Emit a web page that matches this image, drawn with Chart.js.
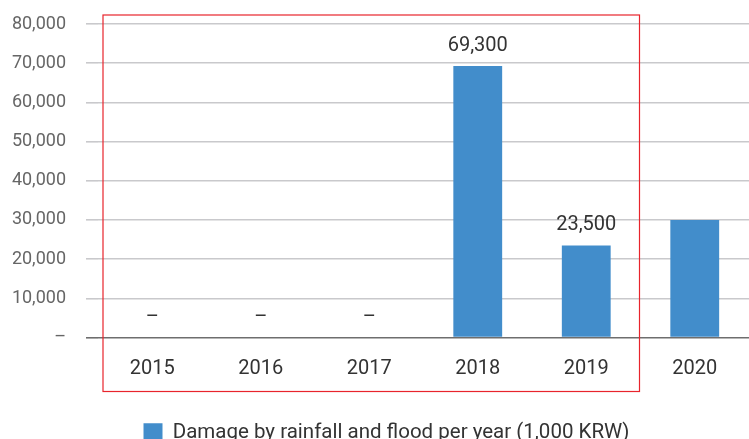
<!DOCTYPE html>
<html>
<head>
<meta charset="utf-8">
<script src="https://cdn.jsdelivr.net/npm/chart.js@4"></script>
<style>
  html, body { margin: 0; padding: 0; background: #fff; }
  #wrap { width: 749px; height: 439px; }
</style>
</head>
<body>
<div id="wrap"><canvas id="damageChart" width="749" height="439"></canvas></div>
<script>
// Damage by rainfall and flood per year

const years = ['2015', '2016', '2017', '2018', '2019', '2020'];
const damage = [0, 0, 0, 69300, 23500, 30000];
const valueLabels = ['–', '–', '–', '69,300', '23,500', ''];
const yTicks = [0, 10000, 20000, 30000, 40000, 50000, 60000, 70000, 80000];
const seriesName = 'Damage by rainfall and flood per year (1,000 KRW)';

const FONT = 'Roboto, "Noto Sans", sans-serif';

// --- value labels above bars ---
const barLabels = {
    id: 'barLabels',
    afterDatasetsDraw(chart) {
        const ctx = chart.ctx;
        const meta = chart.getDatasetMeta(0);
        ctx.save();
        ctx.font = '20px ' + FONT;
        ctx.fillStyle = '#333333';
        ctx.textAlign = 'center';
        ctx.textBaseline = 'middle';
        meta.data.forEach((bar, i) => {
            if (!valueLabels[i]) return;
            ctx.fillText(valueLabels[i], bar.x, bar.y - 20);
        });
        ctx.restore();
    }
};

// --- red highlight box round 2015..2019 ---
const highlightBox = {
    id: 'highlightBox',
    afterLayout(chart) {
        // legend in the original sits a little right of centre
        if (chart.legend) {
            chart.legend.left += 12;
            chart.legend.right += 12;
        }
    },
    afterDraw(chart) {
        const x = chart.scales.x;
        const area = chart.chartArea;
        const half = (x.getPixelForValue(1) - x.getPixelForValue(0)) / 2;
        const left = x.getPixelForValue(0) - half + 5;
        const right = x.getPixelForValue(4) + half - 1;
        const ctx = chart.ctx;
        ctx.save();
        ctx.strokeStyle = '#e8242c';
        ctx.lineWidth = 1.2;
        ctx.strokeRect(left, area.top - 9, right - left, area.bottom - area.top + 63);
        ctx.restore();
    }
};

const ctx = document.getElementById('damageChart').getContext('2d');

new Chart(ctx, {
    type: 'bar',
    data: {
        labels: years,
        datasets: [{
            label: seriesName,
            data: damage,
            backgroundColor: '#428dcb',
            borderWidth: 0,
            barPercentage: 0.9,
            categoryPercentage: 0.5
        }]
    },
    options: {
        responsive: false,
        animation: false,
        layout: { padding: { top: 24, right: 0, left: 0, bottom: -14 } },
        scales: {
            x: {
                grid: { display: false },
                border: { display: false },
                ticks: { color: '#333333', font: { size: 20, family: FONT }, padding: 11 },
                afterFit: (scale) => { scale.height = 77; }
            },
            y: {
                min: 0,
                max: 80000,
                afterBuildTicks: (scale) => { scale.ticks = yTicks.map(v => ({ value: v })); },
                border: { display: false },
                grid: {
                    color: (c) => (c.tick && c.tick.value === 0) ? '#6e6e6e' : '#c9c9cc',
                    lineWidth: 1.6,
                    tickLength: 12
                },
                ticks: {
                    color: '#666666',
                    padding: 20,
                    font: { size: 18, family: FONT },
                    callback: (v) => v === 0 ? '–' : v.toLocaleString('en-US')
                },
                afterFit: (scale) => {
                    scale.width = 98;
                    scale.paddingTop = 0;
                    scale.paddingBottom = 0;
                }
            }
        },
        plugins: {
            legend: {
                position: 'bottom',
                labels: {
                    color: '#333333',
                    boxWidth: 19,
                    boxHeight: 19,
                    padding: 8,
                    font: { size: 20.5, family: FONT }
                }
            },
            tooltip: { enabled: false }
        }
    },
    plugins: [barLabels, highlightBox]
});
</script>
</body>
</html>
